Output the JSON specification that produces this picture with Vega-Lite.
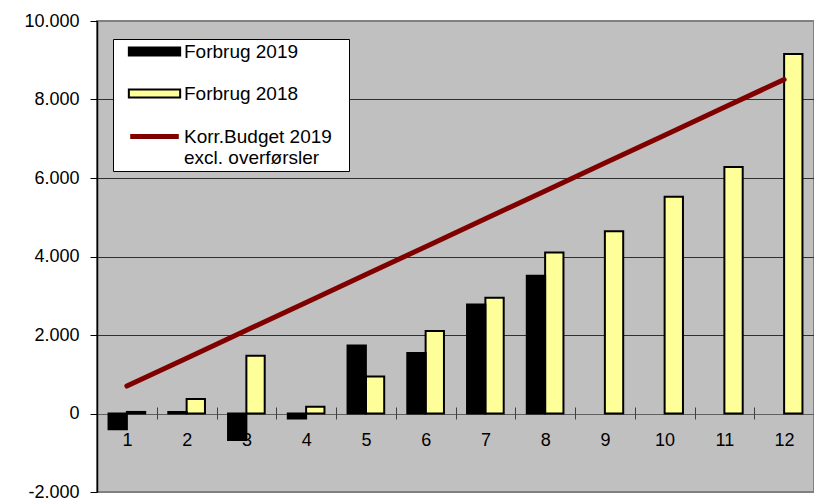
{
  "$schema": "https://vega.github.io/schema/vega-lite/v6.json",
  "width": 717,
  "height": 471,
  "autosize": {"type": "none"},
  "padding": {"left": 97, "top": 21, "right": 0, "bottom": 10},
  "background": "white",
  "config": {
    "locale": {"number": {"decimal": ",", "thousands": ".", "grouping": [3], "currency": ["", " kr."], "minus": "-"}},
    "view": {"fill": "#C0C0C0", "stroke": "#808080", "strokeWidth": 2},
    "font": "Liberation Sans"
  },
  "data": {
    "values": [
      {"month": 1, "series": "Forbrug 2019", "value": -400},
      {"month": 2, "series": "Forbrug 2019", "value": 40},
      {"month": 3, "series": "Forbrug 2019", "value": -675},
      {"month": 4, "series": "Forbrug 2019", "value": -130},
      {"month": 5, "series": "Forbrug 2019", "value": 1730},
      {"month": 6, "series": "Forbrug 2019", "value": 1540},
      {"month": 7, "series": "Forbrug 2019", "value": 2780},
      {"month": 8, "series": "Forbrug 2019", "value": 3510},
      {"month": 1, "series": "Forbrug 2018", "value": 40},
      {"month": 2, "series": "Forbrug 2018", "value": 370},
      {"month": 3, "series": "Forbrug 2018", "value": 1470},
      {"month": 4, "series": "Forbrug 2018", "value": 170},
      {"month": 5, "series": "Forbrug 2018", "value": 940},
      {"month": 6, "series": "Forbrug 2018", "value": 2100},
      {"month": 7, "series": "Forbrug 2018", "value": 2950},
      {"month": 8, "series": "Forbrug 2018", "value": 4105},
      {"month": 9, "series": "Forbrug 2018", "value": 4645},
      {"month": 10, "series": "Forbrug 2018", "value": 5520},
      {"month": 11, "series": "Forbrug 2018", "value": 6280},
      {"month": 12, "series": "Forbrug 2018", "value": 9160},
      {"month": 1, "series": "Korr.Budget 2019 excl. overførsler", "value": 700},
      {"month": 2, "series": "Korr.Budget 2019 excl. overførsler", "value": 1410},
      {"month": 3, "series": "Korr.Budget 2019 excl. overførsler", "value": 2120},
      {"month": 4, "series": "Korr.Budget 2019 excl. overførsler", "value": 2830},
      {"month": 5, "series": "Korr.Budget 2019 excl. overførsler", "value": 3540},
      {"month": 6, "series": "Korr.Budget 2019 excl. overførsler", "value": 4250},
      {"month": 7, "series": "Korr.Budget 2019 excl. overførsler", "value": 4960},
      {"month": 8, "series": "Korr.Budget 2019 excl. overførsler", "value": 5670},
      {"month": 9, "series": "Korr.Budget 2019 excl. overførsler", "value": 6380},
      {"month": 10, "series": "Korr.Budget 2019 excl. overførsler", "value": 7090},
      {"month": 11, "series": "Korr.Budget 2019 excl. overførsler", "value": 7800},
      {"month": 12, "series": "Korr.Budget 2019 excl. overførsler", "value": 8510}
    ]
  },
  "layer": [
    {
      "transform": [{"filter": "datum.series !== 'Korr.Budget 2019 excl. overførsler'"}],
      "mark": {"type": "bar"},
      "encoding": {
        "x": {
          "field": "month",
          "type": "ordinal",
          "scale": {"paddingInner": 0, "paddingOuter": 0},
          "axis": {
            "title": null,
            "labelAngle": 0,
            "offset": -85,
            "domain": false,
            "tickBand": "extent",
            "tickSize": 12,
            "tickColor": "#404040",
            "tickWidth": 1,
            "labelFont": "Liberation Sans",
            "labelFontSize": 18,
            "labelColor": "black",
            "labelPadding": 12,
            "grid": false
          }
        },
        "xOffset": {
          "field": "series",
          "type": "nominal",
          "scale": {"domain": ["Forbrug 2019", "Forbrug 2018"], "paddingInner": 0, "paddingOuter": 0.63}
        },
        "y": {
          "field": "value",
          "type": "quantitative",
          "scale": {"domain": [-2000, 10000], "nice": false, "zero": false},
          "axis": {
            "title": null,
            "values": [-2000, 0, 2000, 4000, 6000, 8000, 10000],
            "format": ",d",
            "labelFont": "Liberation Sans",
            "labelFontSize": 18,
            "labelColor": "black",
            "labelPadding": 11,
            "tickSize": 7,
            "tickColor": "black",
            "domainColor": "black",
            "domainWidth": 1.5,
            "grid": true,
            "gridWidth": 1,
            "gridColor": {
              "condition": [
                {"test": "datum.value === 10000 || datum.value === -2000", "value": "transparent"},
                {"test": "datum.value === 0", "value": "#606060"}
              ],
              "value": "#303030"
            }
          }
        },
        "color": {
          "field": "series",
          "type": "nominal",
          "scale": {
            "domain": ["Forbrug 2019", "Forbrug 2018", "Korr.Budget 2019 excl. overførsler"],
            "range": ["black", "#FFFF99", "#800000"]
          },
          "legend": {
            "title": null,
            "orient": "none",
            "legendX": 16,
            "legendY": 18,
            "direction": "vertical",
            "fillColor": "white",
            "strokeColor": "black",
            "padding": 3,
            "labelFont": "Liberation Sans",
            "labelFontSize": 19,
            "labelColor": "black",
            "labelLimit": 300,
            "symbolSize": 182.25,
            "symbolOffset": 29,
            "labelOffset": 20,
            "rowPadding": 22,
            "symbolOpacity": 1,
            "symbolType": {"expr": "datum.value == 'Korr.Budget 2019 excl. overførsler' ? 'M-3.6,0H3.6' : 'M-3.8,-0.6H3.8V0.6H-3.8Z'"},
            "symbolStrokeColor": {"expr": "datum.value == 'Korr.Budget 2019 excl. overførsler' ? '#800000' : 'black'"},
            "symbolStrokeWidth": {"expr": "datum.value == 'Korr.Budget 2019 excl. overførsler' ? 5 : 2"},
            "labelExpr": "datum.value == 'Korr.Budget 2019 excl. overførsler' ? ['Korr.Budget 2019\u2800', 'excl. overførsler'] : datum.label"
          }
        }
      }
    },
    {
      "transform": [{"filter": "datum.series !== 'Korr.Budget 2019 excl. overførsler'"}],
      "mark": {"type": "bar", "fill": "transparent", "stroke": "black", "strokeWidth": 2},
      "encoding": {
        "x": {"field": "month", "type": "ordinal"},
        "xOffset": {"field": "series", "type": "nominal"},
        "y": {"field": "value", "type": "quantitative"}
      }
    },
    {
      "transform": [{"filter": "datum.series === 'Korr.Budget 2019 excl. overførsler'"}],
      "mark": {"type": "line", "strokeWidth": 5, "strokeCap": "round", "color": "#800000"},
      "encoding": {
        "x": {"field": "month", "type": "ordinal"},
        "y": {"field": "value", "type": "quantitative"}
      }
    }
  ]
}
